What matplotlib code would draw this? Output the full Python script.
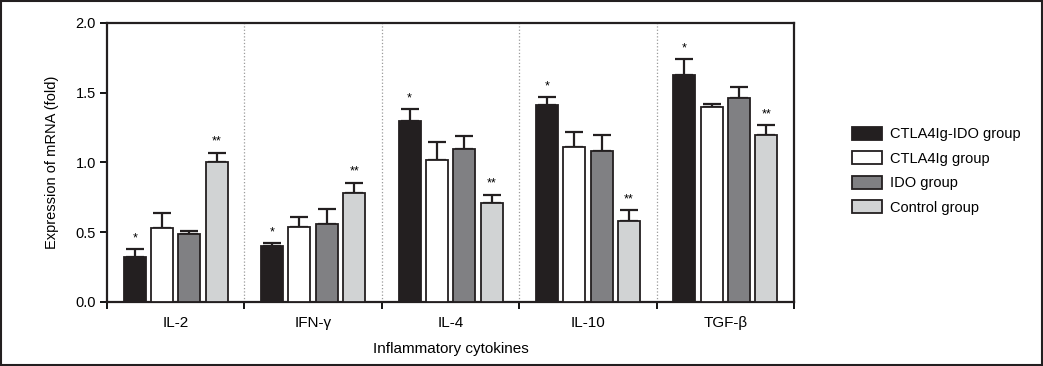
import numpy as np
import matplotlib
matplotlib.use('Agg')
import matplotlib.pyplot as plt
from matplotlib.patches import Rectangle

# Data
cytokines = ['IL-2', 'IFN-\u03b3', 'IL-4', 'IL-10', 'TGF-\u03b2']
groups = ['CTLA4Ig-IDO group', 'CTLA4Ig group', 'IDO group', 'Control group']

ctla4ig_ido = [0.32, 0.40, 1.30, 1.41, 1.63]
ctla4ig = [0.53, 0.54, 1.02, 1.11, 1.40]
ido = [0.49, 0.56, 1.10, 1.08, 1.46]
control = [1.00, 0.78, 0.71, 0.58, 1.20]

ctla4ig_ido_err = [0.06, 0.02, 0.08, 0.06, 0.11]
ctla4ig_err = [0.11, 0.07, 0.13, 0.11, 0.02]
ido_err = [0.02, 0.11, 0.09, 0.12, 0.08]
control_err = [0.07, 0.075, 0.06, 0.08, 0.07]

stars_ido = ['*', '*', '*', '*', '*']
stars_control = ['**', '**', '**', '**', '**']

plt.rcParams['font.family'] = ['Liberation Sans', 'DejaVu Sans']

fig = plt.figure(figsize=(10.43, 3.66), dpi=100)
ax = fig.add_axes([0.1026, 0.1749, 0.6587, 0.7623])

values = [ctla4ig_ido, ctla4ig, ido, control]
errors = [ctla4ig_ido_err, ctla4ig_err, ido_err, control_err]
colors = ['#231f20', '#ffffff', '#808083', '#d1d3d4']

x = np.arange(len(cytokines))
width = 0.16
step = 0.199
offsets = (np.arange(4) - 1.5) * step

for i in range(4):
    ax.bar(x + offsets[i], values[i], width, color=colors[i], edgecolor='#231f20',
           linewidth=1.3, label=groups[i], zorder=3)
    ax.errorbar(x + offsets[i], values[i], yerr=[np.zeros(5), errors[i]], fmt='none',
                ecolor='#231f20', elinewidth=1.6, capsize=6.5, capthick=1.6, zorder=2)

# significance marks
for j in range(len(cytokines)):
    ax.text(x[j] + offsets[0], ctla4ig_ido[j] + ctla4ig_ido_err[j] + 0.035, stars_ido[j],
            ha='center', va='bottom', fontsize=9)
    ax.text(x[j] + offsets[3], control[j] + control_err[j] + 0.035, stars_control[j],
            ha='center', va='bottom', fontsize=9)

# dotted separators
for b in np.arange(0.5, len(cytokines) - 0.5, 1.0):
    ax.axvline(b, color='#9a9a9a', linestyle=':', linewidth=0.9, zorder=1)

ax.set_xlim(-0.5, len(cytokines) - 0.5)
ax.set_ylim(0, 2.0)
ax.set_yticks([0.0, 0.5, 1.0, 1.5, 2.0])
ax.set_yticklabels(['0.0', '0.5', '1.0', '1.5', '2.0'], fontsize=10.5)

ax.set_xticks(np.arange(-0.5, len(cytokines), 1.0))
ax.set_xticklabels([])
ax.tick_params(axis='x', length=5, width=1.3, direction='out')
ax.tick_params(axis='y', length=5, width=1.3, direction='out', pad=3)
for j, name in enumerate(cytokines):
    ax.text(x[j], -0.10, name, ha='center', va='top', fontsize=11)

ax.set_xlabel('Inflammatory cytokines', fontsize=11, labelpad=20)
ax.set_ylabel('Expression of mRNA (fold)', fontsize=10.5, labelpad=12)

for s in ax.spines.values():
    s.set_linewidth(1.6)
    s.set_color('#231f20')

ax.legend(loc='center left', bbox_to_anchor=(1.065, 0.47), frameon=False, fontsize=10.5,
          handlelength=2.1, handleheight=1.0, handletextpad=0.5, labelspacing=0.68)

fig.patches.append(Rectangle((0.001, 0.002), 0.998, 0.996, transform=fig.transFigure,
                             fill=False, edgecolor='#231f20', linewidth=1.5))

fig.savefig('out.png', dpi=100)
